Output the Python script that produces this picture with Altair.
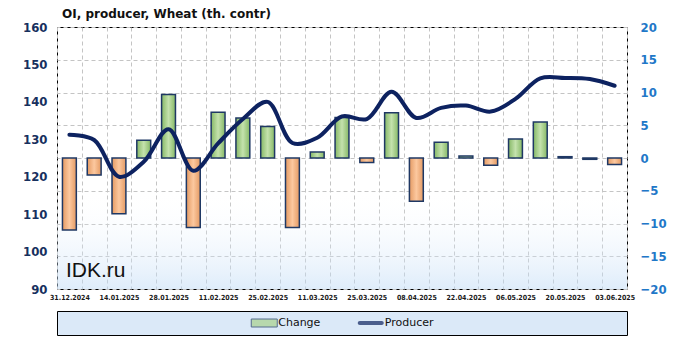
import json
import altair as alt
import pandas as pd

# ---------------- data ----------------
dates = ["31.12.2024", "07.01.2025", "14.01.2025", "21.01.2025", "28.01.2025",
         "04.02.2025", "11.02.2025", "18.02.2025", "25.02.2025", "04.03.2025",
         "11.03.2025", "18.03.2025", "25.03.2025", "01.04.2025", "08.04.2025",
         "15.04.2025", "22.04.2025", "29.04.2025", "06.05.2025", "13.05.2025",
         "20.05.2025", "27.05.2025", "03.06.2025"]
change = [-11.0, -2.6, -8.5, 2.7, 9.7, -10.6, 7.0, 6.1, 4.8, -10.6, 0.9, 6.2,
          -0.7, 6.9, -6.6, 2.4, 0.3, -1.1, 2.9, 5.5, 0.2, -0.2, -1.0]
producer = [131.2, 129.8, 120.0, 124.0, 132.7, 121.6, 128.9, 135.4, 140.0, 129.0,
            130.4, 136.1, 135.4, 142.7, 135.7, 138.4, 139.0, 137.4, 140.8, 146.3,
            146.4, 146.1, 144.3]
left_ticks = [90, 100, 110, 120, 130, 140, 150, 160]
right_ticks = [-20, -15, -10, -5, 0, 5, 10, 15, 20]
legend_names = ["Change", "Producer"]
title_text = "OI, producer, Wheat (th. contr)"
watermark = "IDK.ru"

W, H = 570, 262
FONT = "DejaVu Sans"
FONT_C = "DejaVu Sans Condensed"
NAVY = "#0d2260"

df = pd.DataFrame({"date": dates, "change": change, "producer": producer})
shown = dates[::2]
label_expr = "indexof(%s, datum.value) >= 0 ? datum.label : ''" % json.dumps(shown).replace('"', "'")

green_grad = {"gradient": "linear", "x1": 0, "x2": 1, "y1": 0, "y2": 0,
              "stops": [{"offset": 0, "color": "#86b866"}, {"offset": 0.5, "color": "#c4e2ad"},
                        {"offset": 1, "color": "#86b866"}]}
orange_grad = {"gradient": "linear", "x1": 0, "x2": 1, "y1": 0, "y2": 0,
               "stops": [{"offset": 0, "color": "#e49a63"}, {"offset": 0.5, "color": "#fcc89f"},
                         {"offset": 1, "color": "#e49a63"}]}
bg_grad = {"gradient": "linear", "x1": 0, "x2": 0, "y1": 0, "y2": 1,
           "stops": [{"offset": 0, "color": "rgba(255,255,255,0)"},
                     {"offset": 0.62, "color": "rgba(255,255,255,0)"},
                     {"offset": 1, "color": "rgba(190,218,246,0.5)"}]}

x_axis = alt.Axis(title=None, labelExpr=label_expr, labelAngle=0, ticks=False, domain=False,
                  grid=True, tickBand="extent", gridDash=[4, 3], gridColor="#c4c4c4",
                  labelFont=FONT_C, labelFontSize=7, labelFontWeight="bold", labelColor="#1a1a1a",
                  labelPadding=4, labelOverlap=False)
x_enc = alt.X("date:N", sort=dates, scale=alt.Scale(domain=dates, paddingInner=0, paddingOuter=0),
              axis=x_axis)

bg = alt.Chart(pd.DataFrame({"k": [0]})).mark_rect(fill=bg_grad, strokeWidth=0).encode(
    x=alt.value(0), x2=alt.value(W), y=alt.value(0), y2=alt.value(H))

bars = alt.Chart(df).mark_bar(stroke="#1f3864", strokeWidth=1.5,
                              width=alt.RelativeBandSize(0.56)).encode(
    x=x_enc,
    y=alt.Y("change:Q", scale=alt.Scale(domain=[-20, 20], nice=False),
            axis=alt.Axis(orient="right", values=right_ticks, title=None, grid=True,
                          gridDash=[4, 3], gridColor="#c4c4c4", ticks=False, domain=False,
                          labelFont=FONT_C, labelFontSize=13, labelFontWeight="bold",
                          labelColor="#1f78c8", labelPadding=13)),
    fill=alt.condition("datum.change < 0", alt.value(orange_grad), alt.value(green_grad)),
)

line = alt.Chart(df).mark_line(interpolate="catmull-rom", stroke=NAVY, strokeWidth=4,
                               strokeCap="round").encode(
    x=x_enc,
    y=alt.Y("producer:Q", scale=alt.Scale(domain=[90, 160], nice=False, zero=False),
            axis=alt.Axis(orient="left", values=left_ticks, title=None, grid=False,
                          ticks=False, domain=False, labelFont=FONT_C, labelFontSize=13,
                          labelFontWeight="bold", labelColor="#17305e", labelPadding=10)),
)

mark_txt = alt.Chart(pd.DataFrame({"t": [watermark]})).mark_text(
    align="left", baseline="alphabetic", font="Liberation Sans", fontSize=21, color="#111111"
).encode(x=alt.value(9), y=alt.value(250), text="t:N")

main = alt.layer(bg, bars, line, mark_txt).resolve_scale(y="independent").properties(
    width=W, height=H,
    title=alt.Title(title_text, anchor="start", frame="group", font=FONT, fontSize=12,
                    fontWeight="bold", color="#111111", dx=5, offset=0),
    view=alt.ViewBackground(stroke="black", strokeWidth=1),
)

# ---------------- legend ----------------
leg_df = pd.DataFrame({"name": legend_names})
lx = alt.X("name:N", scale=alt.Scale(domain=legend_names, range=[154, 367], padding=0),
           axis=None)
sym_change = alt.Chart(leg_df).transform_filter("datum.name == 'Change'").mark_tick(
    orient="horizontal", size=26, thickness=8, filled=True, color="#a9d18e",
    stroke="#1f3864", strokeWidth=1).encode(x=lx, y=alt.value(12))
sym_prod = alt.Chart(leg_df).transform_filter("datum.name == 'Producer'").mark_tick(
    orient="horizontal", size=26, thickness=4, filled=True, color=NAVY, cornerRadius=2
).encode(x=lx, y=alt.value(12))
leg_txt = alt.Chart(leg_df).mark_text(align="left", baseline="middle", dx=14, font=FONT,
                                      fontSize=11, color="#111111").encode(
    x=lx, y=alt.value(12), text="name:N")
legend = alt.layer(sym_change, sym_prod, leg_txt).properties(
    width=W, height=24,
    view=alt.ViewBackground(fill="#dbe9f8", stroke="black", strokeWidth=1),
)

chart = alt.vconcat(main, legend, spacing=9).properties(
    background="white",
    padding={"left": 22, "top": 7, "right": 10, "bottom": 4},
)

chart.save("out.html", embed_options={"renderer": "svg", "actions": False})
